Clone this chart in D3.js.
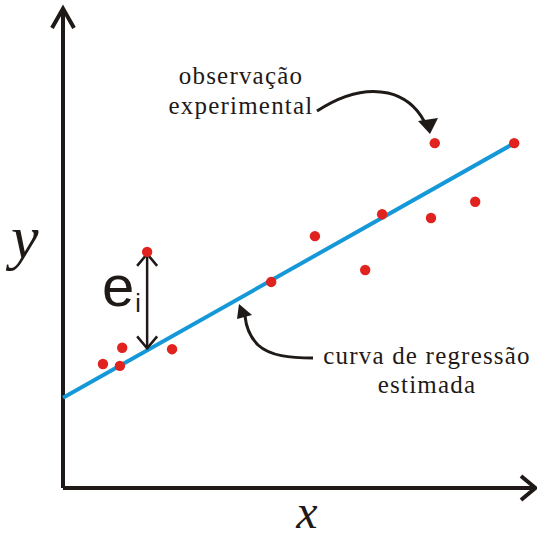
<!DOCTYPE html>
<html>
<head>
<meta charset="utf-8">
<script src="https://cdn.jsdelivr.net/npm/d3@7"></script>
<style>
  html, body { margin: 0; padding: 0; background: #fff; }
  svg { display: block; }
  .serif { font-family: "Liberation Serif", "DejaVu Serif", "Noto Serif", FreeSerif, Tinos, serif; }
  .sans { font-family: "Liberation Sans", Arial, "DejaVu Sans", sans-serif; }
</style>
</head>
<body>
<svg id="chart" width="537" height="538"></svg>
<script>
// Observed points (x, y) in plot units
const obsX = [0.85, 1.26, 1.21, 1.79, 2.32, 4.43, 5.36, 6.43, 6.79, 7.83, 7.91, 8.77, 9.60];
const obsY = [2.60, 2.94, 2.56, 4.95, 2.91, 4.32, 5.28, 4.57, 5.74, 5.66, 7.23, 6.00, 7.23];

// Fitted regression line: y = intercept + slope * x, drawn over [lineX0, lineX1]
const intercept = 1.89;
const slope = 0.556;
const lineX0 = 0;
const lineX1 = 9.60;

// Index of the observation whose residual e_i is shown
const residualIndex = 3;

// Annotation texts
const topLabel = ["observação", "experimental"];
const bottomLabel = ["curva de regressão", "estimada"];

const svg = d3.select("#chart");
const x = d3.scaleLinear().domain([0, 10]).range([63, 533]);
const y = d3.scaleLinear().domain([0, 10]).range([488, 11]);

const ink = "#1f1a17";
const red = "#e0231f";
const blue = "#1598d8";

// Axes with open chevron heads
svg.append("path")
  .attr("d", `M${x(0)},${y(0)} L${x(0)},${y(10.05)}`)
  .attr("stroke", ink).attr("stroke-width", 4).attr("fill", "none");
svg.append("path")
  .attr("d", `M${x(0)},${y(0)} L${x(10.05)},${y(0)}`)
  .attr("stroke", ink).attr("stroke-width", 4).attr("fill", "none");
svg.append("path")
  .attr("d", `M${x(0) - 11},${y(10) + 17} L${x(0)},${y(10.05)} L${x(0) + 11},${y(10) + 17}`)
  .attr("stroke", ink).attr("stroke-width", 4).attr("fill", "none")
  .attr("stroke-linejoin", "miter");
svg.append("path")
  .attr("d", `M${x(10) - 12},${y(0) - 12} L${x(10.05)},${y(0)} L${x(10) - 12},${y(0) + 12}`)
  .attr("stroke", ink).attr("stroke-width", 4).attr("fill", "none")
  .attr("stroke-linejoin", "miter");

// Axis letters
svg.append("text").attr("class", "serif").attr("x", 11).attr("y", 258)
  .attr("font-style", "italic")
  .attr("font-size", 62).attr("fill", ink).text("y");
svg.append("text").attr("class", "serif").attr("x", 307).attr("y", 528)
  .attr("text-anchor", "middle")
  .attr("font-style", "italic")
  .attr("font-size", 48).attr("fill", ink).text("x");

// Regression line
svg.append("line")
  .attr("x1", x(lineX0)).attr("y1", y(intercept + slope * lineX0))
  .attr("x2", x(lineX1)).attr("y2", y(intercept + slope * lineX1))
  .attr("stroke", blue).attr("stroke-width", 4);

// Residual arrow between observation and fitted value
const rx = obsX[residualIndex];
const rTop = y(obsY[residualIndex]);
const rBot = y(intercept + slope * rx);
svg.append("line")
  .attr("x1", x(rx)).attr("y1", rTop + 2).attr("x2", x(rx)).attr("y2", rBot - 2)
  .attr("stroke", ink).attr("stroke-width", 2.5);
svg.append("path")
  .attr("d", `M${x(rx) - 10},${rTop + 14} L${x(rx)},${rTop + 2} L${x(rx) + 10},${rTop + 14}`)
  .attr("stroke", ink).attr("stroke-width", 2.5).attr("fill", "none");
svg.append("path")
  .attr("d", `M${x(rx) - 10},${rBot - 14} L${x(rx)},${rBot - 2} L${x(rx) + 10},${rBot - 14}`)
  .attr("stroke", ink).attr("stroke-width", 2.5).attr("fill", "none");

const eLabel = svg.append("text").attr("class", "sans").attr("x", 102).attr("y", 306)
  .attr("font-size", 58).attr("fill", ink);
eLabel.append("tspan").text("e");
eLabel.append("tspan").attr("font-size", 25).attr("dy", 6).attr("dx", 1).text("i");

// Observation points
svg.append("g").selectAll("circle")
  .data(obsX.map((v, i) => [v, obsY[i]]))
  .join("circle")
  .attr("cx", d => x(d[0])).attr("cy", d => y(d[1]))
  .attr("r", 5.2).attr("fill", red);

// Annotations
svg.append("g").selectAll("text").data(topLabel).join("text")
  .attr("class", "serif")
  .attr("x", 241).attr("y", (d, i) => 84 + i * 30)
  .attr("text-anchor", "middle")
  .attr("font-size", 25).attr("letter-spacing", 1.2).attr("fill", ink)
  .text(d => d);
svg.append("g").selectAll("text").data(bottomLabel).join("text")
  .attr("class", "serif")
  .attr("x", 427).attr("y", (d, i) => 364 + i * 29)
  .attr("text-anchor", "middle")
  .attr("font-size", 25).attr("letter-spacing", 1.2).attr("fill", ink)
  .text(d => d);

// Curved pointer arrows
svg.append("path")
  .attr("d", "M317,111 C340,96 365,88 388,93 C405,97 417,108 424,121")
  .attr("stroke", ink).attr("stroke-width", 3).attr("fill", "none");
svg.append("path")
  .attr("d", "M418,121 L438,118 L430,134 Z").attr("fill", ink);

svg.append("path")
  .attr("d", "M313,358 C290,358 270,356 258,345 C250,337 246,326 245,316")
  .attr("stroke", ink).attr("stroke-width", 3).attr("fill", "none");
svg.append("path")
  .attr("d", "M237,319 L239,304 L252,315 Z").attr("fill", ink);
</script>
</body>
</html>
